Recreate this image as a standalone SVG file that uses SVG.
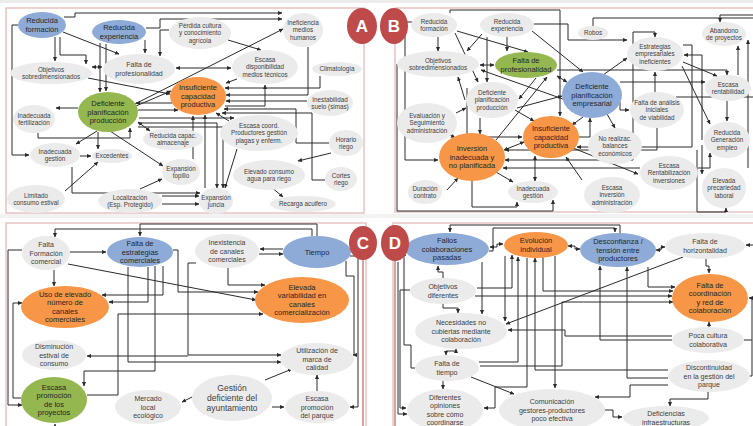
<svg xmlns="http://www.w3.org/2000/svg" width="753" height="426" viewBox="0 0 753 426">
<defs>
<marker id="ah" viewBox="0 0 10 10" refX="9" refY="5" markerWidth="4.5" markerHeight="4.5" orient="auto-start-reverse"><path d="M0,0.5L10,5L0,9.5z" fill="#2a2a2a"/></marker>
</defs>
<style>
.g{fill:#ebebeb}
.b{fill:#8eabd8}
.o{fill:#f79646}
.v{fill:#94b750}
.fr{fill:none;stroke:#e3b3b3;stroke-width:1.2}
.lab{fill:#bf4a4a}
.rl{stroke:#a94442;stroke-width:1;fill:none}
text{font-family:"Liberation Sans",Arial,sans-serif;text-anchor:middle}
.s{font-size:6.3px;fill:#404040}
.t{font-size:7px;fill:#404040}
.m{font-size:7.5px;fill:#262626}
.L{font-size:8.5px;fill:#404040}
.k{font-size:17px;font-weight:bold;fill:#fff}
#connectors path{fill:none;stroke:#2a2a2a;stroke-width:1}
#connectors .e{marker-end:url(#ah)}
#connectors .d{marker-end:url(#ah);marker-start:url(#ah)}
</style>
<rect width="753" height="426" fill="#fff"/>
<rect width="753" height="3" fill="#ececec"/>
<rect y="214" width="753" height="4" fill="#f2f2f2"/>
<g id="frames">
<rect class="fr" x="6" y="8" width="358" height="205"/>
<rect class="fr" x="395" y="8" width="362" height="204"/>
<rect class="fr" x="6" y="223" width="360" height="210"/>
<rect class="fr" x="393" y="223" width="364" height="210"/>
<path class="rl" d="M363 258V426M395 259V426"/>
</g>
<g id="connectors">
<!-- Panel A -->
<path class="e" d="M64 17H75V13H282"/>
<path class="e" d="M146 28H160V19H282"/>
<path class="e" d="M63 32L119 54"/>
<path class="e" d="M55 37V61"/>
<path class="e" d="M60 37V55H86V64"/>
<path class="e" d="M18 25H12V155H29"/>
<path class="e" d="M100 43V92"/>
<path class="e" d="M106 44V91"/>
<path class="e" d="M145 40V53"/>
<path class="e" d="M169 30H160V56"/>
<path class="d" d="M92 67H102"/>
<path class="e" d="M88 78L170 94"/>
<path class="d" d="M176 68H231"/>
<path class="e" d="M228 40L261 50"/>
<path class="e" d="M135 104L283 29"/>
<path class="e" d="M136 106L171 91"/>
<path class="e" d="M138 110H178"/>
<path class="e" d="M172 103H136"/>
<path class="e" d="M237 79L226 83"/>
<path class="e" d="M320 76V88H225"/>
<path class="e" d="M308 47V95H226"/>
<path class="e" d="M307 101H226"/>
<path class="e" d="M225 106H265V85"/>
<path class="e" d="M329 143H296V109H224"/>
<path class="e" d="M325 180H312V113H222"/>
<path class="e" d="M331 153L298 161"/>
<path class="e" d="M270 186L283 197"/>
<path class="e" d="M229 121L216 113"/>
<path class="e" d="M237 149L225 188"/>
<path class="e" d="M193 159V116"/>
<path class="e" d="M205 188V115"/>
<path class="e" d="M138 123H217V188"/>
<path class="e" d="M138 127H223V188"/>
<path class="e" d="M139 118H234"/>
<path class="e" d="M98 132V149"/>
<path class="e" d="M97 131L76 144"/>
<path class="e" d="M110 131L163 166"/>
<path class="e" d="M78 108H56"/>
<path class="e" d="M38 133V138H130V128"/>
<path class="e" d="M80 156H91"/>
<path class="e" d="M65 191L98 162"/>
<path class="e" d="M140 189L162 179"/>
<path class="e" d="M162 196H199"/>
<path class="e" d="M162 204H199"/>
<path class="e" d="M72 167V193H200"/>
<path class="d" d="M150 131L138 122"/>
<!-- Panel B -->
<path class="e" d="M438 37V51"/>
<path class="e" d="M457 31L528 52"/>
<path class="e" d="M455 33L478 82"/>
<path class="e" d="M482 34L467 51"/>
<path class="e" d="M507 37V51"/>
<path class="e" d="M532 31L583 72"/>
<path class="e" d="M487 37V82"/>
<path class="e" d="M534 24H568V40H627"/>
<path class="d" d="M480 65H494"/>
<path class="d" d="M557 76L567 82"/>
<path class="e" d="M563 99L481 70"/>
<path class="e" d="M465 100L458 77"/>
<path class="e" d="M456 113L466 108"/>
<path class="e" d="M446 132L455 138"/>
<path class="e" d="M480 118V134"/>
<path class="e" d="M515 110L534 121"/>
<path class="e" d="M536 78L519 99"/>
<path class="e" d="M496 140L547 77"/>
<path class="d" d="M504 150L524 142"/>
<path class="e" d="M447 190L458 178"/>
<path class="e" d="M496 172L513 182"/>
<path class="d" d="M535 156V181"/>
<path class="e" d="M472 181V207H517V202"/>
<path class="e" d="M412 22H405V160H438"/>
<path class="e" d="M397 64V211H553V200"/>
<path class="e" d="M450 13V10H560V116"/>
<path class="e" d="M467 88V137H522"/>
<path class="e" d="M517 108L562 96"/>
<path class="e" d="M583 117L572 125"/>
<path class="e" d="M579 137H590V118"/>
<path class="e" d="M603 75L627 58"/>
<path class="e" d="M607 114L615 128"/>
<path class="e" d="M620 102V110H629"/>
<path class="e" d="M655 92V72"/>
<path class="e" d="M683 62L717 76"/>
<path class="e" d="M682 66L710 124"/>
<path class="e" d="M738 75V46"/>
<path class="e" d="M727 101V121"/>
<path class="e" d="M748 168V40"/>
<path d="M593 26V18H753"/>
<path class="e" d="M753 15H720V22"/>
<path class="e" d="M633 160V32H655V37"/>
<path class="e" d="M702 140V55H684"/>
<path class="e" d="M698 168H710V153"/>
<path class="e" d="M573 148L638 174"/>
<path class="e" d="M582 180L566 157"/>
<path class="e" d="M620 82H705"/>
<path class="e" d="M557 70H727V75"/>
<path d="M676 97H753"/>
<path class="e" d="M683 45H692V147H577"/>
<path class="e" d="M697 150V212H726V208"/>
<path class="e" d="M702 145V174"/>
<path class="e" d="M633 160H505"/>
<path class="e" d="M640 168H503"/>
<path class="e" d="M657 128V150H505"/>
<!-- Panel C -->
<path class="e" d="M317 236V224H140V236"/>
<path class="e" d="M312 236V229H55V237"/>
<path class="e" d="M70 252H106"/>
<path class="e" d="M54 270V286"/>
<path class="e" d="M68 264L256 300"/>
<path class="e" d="M22 250H8V405H22"/>
<path class="e" d="M21 398H13V303H22"/>
<path class="e" d="M163 266V295H102"/>
<path class="e" d="M148 267V302H109"/>
<path class="e" d="M196 263H188V355H281"/>
<path class="e" d="M188 356H87"/>
<path class="e" d="M173 250H178V292H258"/>
<path class="e" d="M87 395H118V314H263"/>
<path class="e" d="M128 267V362H281"/>
<path class="e" d="M155 266V371H84V386"/>
<path class="e" d="M228 268V285H265"/>
<path class="e" d="M283 249H260"/>
<path class="e" d="M259 254H283"/>
<path class="e" d="M346 261V276H354V355H353"/>
<path class="e" d="M350 256H358V407H350"/>
<path class="e" d="M265 380L292 369"/>
<path class="e" d="M272 407H284"/>
<path class="e" d="M317 391V375"/>
<path class="e" d="M192 397L182 402"/>
<path class="e" d="M55 432V424"/>
<!-- Panel D -->
<path class="e" d="M620 233V225H450V232"/>
<path class="e" d="M489 251H493V228H615V232"/>
<path class="d" d="M490 247H497V244H503"/>
<path class="d" d="M568 246H575V249H580"/>
<path class="d" d="M656 250H661V247H665"/>
<path class="e" d="M753 245H746"/>
<path class="e" d="M706 259V266H709V273"/>
<path class="e" d="M683 257L506 324"/>
<path class="e" d="M709 328V322"/>
<path class="e" d="M708 392V399H670V406"/>
<path class="e" d="M668 385H630V397H595"/>
<path class="e" d="M604 410H613V417H622"/>
<path class="e" d="M745 376H752V298H749"/>
<path d="M744 340H752"/>
<path class="e" d="M443 278V272H438V266"/>
<path class="e" d="M443 304V308H458V313"/>
<path class="d" d="M446 355V351H456V349"/>
<path class="e" d="M443 381V389"/>
<path class="e" d="M471 377L514 394"/>
<path class="e" d="M410 290H400V408H406"/>
<path class="e" d="M415 368H411V345H404V252"/>
<path class="e" d="M398 262V414H407"/>
<path class="e" d="M482 262V314"/>
<path class="e" d="M505 256V321"/>
<path class="e" d="M477 288H512V255"/>
<path class="e" d="M479 362H518V257"/>
<path class="e" d="M527 258V387H495V408H484"/>
<path class="e" d="M668 370H535V258"/>
<path class="e" d="M555 256V388"/>
<path class="e" d="M672 340H600V266"/>
<path class="e" d="M668 378H627V267"/>
<path class="e" d="M648 267V287H675"/>
<path class="e" d="M543 257V291H673"/>
<path class="e" d="M475 296H672"/>
<path class="e" d="M480 366H562V302H673"/>
<path class="e" d="M672 336H565V330H508"/>
</g>
<!-- Panel A nodes -->
<g id="A1"><ellipse class="b" cx="42" cy="25" rx="24" ry="13"/><text class="m" x="42" y="23.4">Reducida</text><text class="m" x="42" y="31.9">formación</text></g>
<g id="A2"><ellipse class="b" cx="119" cy="32" rx="27" ry="12"/><text class="m" x="119" y="30.4">Reducida</text><text class="m" x="119" y="38.9">experiencia</text></g>
<g id="A3"><ellipse class="g" cx="200" cy="33" rx="31" ry="16"/><text class="s" x="200" y="27.7">Pérdida cultura</text><text class="s" x="200" y="35.2">y conocimiento</text><text class="s" x="200" y="42.7">agrícola</text></g>
<g id="A4"><ellipse class="g" cx="303" cy="30" rx="20" ry="17"/><text class="s" x="303" y="24.7">Ineficiencia</text><text class="s" x="303" y="32.2">medios</text><text class="s" x="303" y="39.7">humanos</text></g>
<g id="A5"><ellipse class="g" cx="51" cy="73" rx="41" ry="11"/><text class="s" x="51" y="71.5">Objetivos</text><text class="s" x="51" y="79">sobredimensionados</text></g>
<g id="A6"><ellipse class="g" cx="139" cy="69" rx="36" ry="15"/><text class="t" x="139" y="67.2">Falta de</text><text class="t" x="139" y="75.7">profesionalidad</text></g>
<g id="A7"><ellipse class="g" cx="265" cy="67" rx="33" ry="17"/><text class="s" x="265" y="61.7">Escasa</text><text class="s" x="265" y="69.2">disponibilidad</text><text class="s" x="265" y="76.7">medios técnicos</text></g>
<g id="A8"><ellipse class="g" cx="337" cy="69" rx="25" ry="7"/><text class="s" x="337" y="71.2">Climatología</text></g>
<g id="A9"><ellipse class="v" cx="108" cy="112" rx="30" ry="20"/><text class="m" x="108" y="106.1">Deficiente</text><text class="m" x="108" y="114.6">planificación</text><text class="m" x="108" y="123.1">producción</text></g>
<g id="A10"><ellipse class="o" cx="198" cy="96" rx="28" ry="19"/><text class="m" x="198" y="90.1">Insuficiente</text><text class="m" x="198" y="98.6">capacidad</text><text class="m" x="198" y="107.1">productiva</text></g>
<g id="A11"><ellipse class="g" cx="330" cy="103" rx="23" ry="13"/><text class="s" x="330" y="101.5">Inestabilidad</text><text class="s" x="330" y="109">suelo (simas)</text></g>
<g id="A12"><ellipse class="g" cx="34" cy="119" rx="21" ry="14"/><text class="s" x="34" y="117.5">Inadecuada</text><text class="s" x="34" y="125">fertilización</text></g>
<g id="A13"><ellipse class="g" cx="173" cy="139" rx="30" ry="11"/><text class="s" x="173" y="137.5">Reducida capac.</text><text class="s" x="173" y="145">almacenaje</text></g>
<g id="A14"><ellipse class="g" cx="259" cy="133" rx="39" ry="18"/><text class="s" x="259" y="127.7">Escasa coord.</text><text class="s" x="259" y="135.2">Productores gestión</text><text class="s" x="259" y="142.7">plagas y enferm.</text></g>
<g id="A15"><ellipse class="g" cx="346" cy="143" rx="17" ry="13"/><text class="s" x="346" y="141.5">Horario</text><text class="s" x="346" y="149">riego</text></g>
<g id="A16"><ellipse class="g" cx="55" cy="155" rx="25" ry="12"/><text class="s" x="55" y="153.5">Inadecuada</text><text class="s" x="55" y="161">gestión</text></g>
<g id="A17"><ellipse class="g" cx="112" cy="156" rx="20" ry="7"/><text class="s" x="112" y="158.2">Excedentes</text></g>
<g id="A18"><ellipse class="g" cx="181" cy="172" rx="19" ry="13"/><text class="s" x="181" y="170.5">Expansión</text><text class="s" x="181" y="178">topillo</text></g>
<g id="A19"><ellipse class="g" cx="269" cy="175" rx="36" ry="15"/><text class="s" x="269" y="173.5">Elevado consumo</text><text class="s" x="269" y="181">agua para riego</text></g>
<g id="A20"><ellipse class="g" cx="341" cy="179" rx="16" ry="12"/><text class="s" x="341" y="177.5">Cortes</text><text class="s" x="341" y="185">riego</text></g>
<g id="A21"><ellipse class="g" cx="36" cy="199" rx="29" ry="14"/><text class="s" x="36" y="197.5">Limitado</text><text class="s" x="36" y="205">consumo estival</text></g>
<g id="A22"><ellipse class="g" cx="130" cy="201" rx="32" ry="12"/><text class="s" x="130" y="199.5">Localización</text><text class="s" x="130" y="207">(Esp. Protegido)</text></g>
<g id="A23"><ellipse class="g" cx="216" cy="201" rx="17" ry="13"/><text class="s" x="216" y="199.5">Expansión</text><text class="s" x="216" y="207">juncia</text></g>
<g id="A24"><ellipse class="g" cx="303" cy="204" rx="33" ry="8"/><text class="s" x="303" y="206.2">Recarga acuifero</text></g>
<!-- Panel B nodes -->
<g id="B1"><ellipse class="g" cx="434" cy="25" rx="23" ry="12"/><text class="s" x="434" y="23.5">Reducida</text><text class="s" x="434" y="31">formación</text></g>
<g id="B2"><ellipse class="g" cx="507" cy="25" rx="27" ry="12"/><text class="s" x="507" y="23.5">Reducida</text><text class="s" x="507" y="31">experiencia</text></g>
<g id="B3"><ellipse class="g" cx="593" cy="33" rx="15" ry="7"/><text class="s" x="593" y="35.2">Robos</text></g>
<g id="B4"><ellipse class="g" cx="724" cy="34" rx="22" ry="12"/><text class="s" x="724" y="32.5">Abandono</text><text class="s" x="724" y="40">de proyectos</text></g>
<g id="B5"><ellipse class="g" cx="438" cy="64" rx="41" ry="13"/><text class="s" x="438" y="62.5">Objetivos</text><text class="s" x="438" y="70">sobredimensionados</text></g>
<g id="B6"><ellipse class="v" cx="526" cy="65" rx="31" ry="13"/><text class="m" x="526" y="63.4">Falta de</text><text class="m" x="526" y="71.9">profesionalidad</text></g>
<g id="B7"><ellipse class="g" cx="655" cy="54" rx="28" ry="17"/><text class="s" x="655" y="48.7">Estrategias</text><text class="s" x="655" y="56.2">empresariales</text><text class="s" x="655" y="63.7">ineficientes</text></g>
<g id="B8"><ellipse class="b" cx="592" cy="95" rx="30" ry="23"/><text class="m" x="592" y="89.1">Deficiente</text><text class="m" x="592" y="97.6">planificación</text><text class="m" x="592" y="106.1">empresarial</text></g>
<g id="B9"><ellipse class="g" cx="728" cy="88" rx="23" ry="13"/><text class="s" x="728" y="86.5">Escasa</text><text class="s" x="728" y="94">rentabilidad</text></g>
<g id="B10"><ellipse class="g" cx="492" cy="100" rx="26" ry="18"/><text class="s" x="492" y="94.7">Deficiente</text><text class="s" x="492" y="102.2">planificación</text><text class="s" x="492" y="109.7">producción</text></g>
<g id="B11"><ellipse class="g" cx="657" cy="110" rx="27" ry="18"/><text class="s" x="657" y="104.7">Falta de análisis</text><text class="s" x="657" y="112.2">iniciales</text><text class="s" x="657" y="119.7">de viabilidad</text></g>
<g id="B12"><ellipse class="g" cx="427" cy="123" rx="30" ry="20"/><text class="s" x="427" y="117.7">Evaluación y</text><text class="s" x="427" y="125.2">Seguimiento</text><text class="s" x="427" y="132.7">administración</text></g>
<g id="B13"><ellipse class="o" cx="551" cy="137" rx="28" ry="21"/><text class="m" x="551" y="131.1">Insuficiente</text><text class="m" x="551" y="139.6">capacidad</text><text class="m" x="551" y="148.1">productiva</text></g>
<g id="B14"><ellipse class="g" cx="727" cy="140" rx="23" ry="18"/><text class="s" x="727" y="134.7">Reducida</text><text class="s" x="727" y="142.2">Generación</text><text class="s" x="727" y="149.7">empleo</text></g>
<g id="B15"><ellipse class="g" cx="615" cy="146" rx="27" ry="18"/><text class="s" x="615" y="140.7">No realizac.</text><text class="s" x="615" y="148.2">balances</text><text class="s" x="615" y="155.7">económicos</text></g>
<g id="B16"><ellipse class="o" cx="472" cy="157" rx="33" ry="24"/><text class="m" x="472" y="151.1">Inversión</text><text class="m" x="472" y="159.6">inadecuada y</text><text class="m" x="472" y="168.1">no planificada</text></g>
<g id="B17"><ellipse class="g" cx="669" cy="173" rx="29" ry="17"/><text class="s" x="669" y="167.7">Escasa</text><text class="s" x="669" y="175.2">Rentabilización</text><text class="s" x="669" y="182.7">inversiones</text></g>
<g id="B18"><ellipse class="g" cx="724" cy="188" rx="22" ry="20"/><text class="s" x="724" y="182.7">Elevada</text><text class="s" x="724" y="190.2">precariedad</text><text class="s" x="724" y="197.7">laboral</text></g>
<g id="B19"><ellipse class="g" cx="425" cy="192" rx="17" ry="12"/><text class="s" x="425" y="190.5">Duración</text><text class="s" x="425" y="198">contrato</text></g>
<g id="B20"><ellipse class="g" cx="533" cy="192" rx="25" ry="11"/><text class="s" x="533" y="190.5">Inadecuada</text><text class="s" x="533" y="198">gestión</text></g>
<g id="B21"><ellipse class="g" cx="612" cy="195" rx="28" ry="18"/><text class="s" x="612" y="189.7">Escasa</text><text class="s" x="612" y="197.2">inversión</text><text class="s" x="612" y="204.7">administración</text></g>
<!-- Panel C nodes -->
<g id="C1"><ellipse class="g" cx="46" cy="253" rx="24" ry="17"/><text class="t" x="46" y="247">Falta</text><text class="t" x="46" y="255.5">Formación</text><text class="t" x="46" y="264">comercial</text></g>
<g id="C2"><ellipse class="b" cx="140" cy="252" rx="33" ry="15"/><text class="m" x="140" y="246.1">Falta de</text><text class="m" x="140" y="254.6">estrategias</text><text class="m" x="140" y="263.1">comerciales</text></g>
<g id="C3"><ellipse class="g" cx="227" cy="251" rx="32" ry="17"/><text class="t" x="227" y="245">Inexistencia</text><text class="t" x="227" y="253.5">de canales</text><text class="t" x="227" y="262">comerciales</text></g>
<g id="C4"><ellipse class="b" cx="317" cy="252" rx="34" ry="16"/><text class="m" x="317" y="254.6">Tiempo</text></g>
<g id="C5"><ellipse class="o" cx="65" cy="307" rx="44" ry="21"/><text class="m" x="65" y="296.9">Uso de elevado</text><text class="m" x="65" y="305.4">número de</text><text class="m" x="65" y="313.9">canales</text><text class="m" x="65" y="322.4">comerciales</text></g>
<g id="C6"><ellipse class="o" cx="302" cy="300" rx="47" ry="23"/><text class="m" x="302" y="289.9">Elevada</text><text class="m" x="302" y="298.4">variabilidad en</text><text class="m" x="302" y="306.9">canales</text><text class="m" x="302" y="315.4">comercialización</text></g>
<g id="C7"><ellipse class="g" cx="54" cy="355" rx="32" ry="15"/><text class="t" x="54" y="349">Disminución</text><text class="t" x="54" y="357.5">estival de</text><text class="t" x="54" y="366">consumo</text></g>
<g id="C8"><ellipse class="g" cx="317" cy="359" rx="37" ry="16"/><text class="t" x="317" y="353">Utilización de</text><text class="t" x="317" y="361.5">marca de</text><text class="t" x="317" y="370">calidad</text></g>
<g id="C9"><ellipse class="v" cx="54" cy="400" rx="33" ry="23"/><text class="m" x="54" y="389.9">Escasa</text><text class="m" x="54" y="398.4">promoción</text><text class="m" x="54" y="406.9">de los</text><text class="m" x="54" y="415.4">proyectos</text></g>
<g id="C10"><ellipse class="g" cx="148" cy="407" rx="33" ry="17"/><text class="t" x="148" y="401">Mercado</text><text class="t" x="148" y="409.5">local</text><text class="t" x="148" y="418">ecológico</text></g>
<g id="C11"><ellipse class="g" cx="232" cy="398" rx="40" ry="23"/><text class="L" x="232" y="391">Gestión</text><text class="L" x="232" y="401">deficiente del</text><text class="L" x="232" y="411">ayuntamiento</text></g>
<g id="C12"><ellipse class="g" cx="317" cy="407" rx="32" ry="16"/><text class="t" x="317" y="401">Escasa</text><text class="t" x="317" y="409.5">promoción</text><text class="t" x="317" y="418">del parque</text></g>
<!-- Panel D nodes -->
<g id="D1"><ellipse class="b" cx="447" cy="249" rx="42" ry="16"/><text class="m" x="447" y="243.1">Fallos</text><text class="m" x="447" y="251.6">colaboraciones</text><text class="m" x="447" y="260.1">pasadas</text></g>
<g id="D2"><ellipse class="o" cx="536" cy="245" rx="32" ry="13"/><text class="m" x="536" y="243.4">Evolución</text><text class="m" x="536" y="251.9">individual</text></g>
<g id="D3"><ellipse class="b" cx="618" cy="250" rx="38" ry="17"/><text class="m" x="618" y="244.1">Desconfianza /</text><text class="m" x="618" y="252.6">tensión entre</text><text class="m" x="618" y="261.1">productores</text></g>
<g id="D4"><ellipse class="g" cx="705" cy="246" rx="40" ry="13"/><text class="t" x="705" y="244.2">Falta de</text><text class="t" x="705" y="252.7">horizontalidad</text></g>
<g id="D5"><ellipse class="g" cx="443" cy="291" rx="33" ry="13"/><text class="t" x="443" y="289.2">Objetivos</text><text class="t" x="443" y="297.7">diferentes</text></g>
<g id="D6"><ellipse class="o" cx="710" cy="298" rx="38" ry="24"/><text class="m" x="710" y="287.9">Falta de</text><text class="m" x="710" y="296.4">coordinación</text><text class="m" x="710" y="304.9">y red de</text><text class="m" x="710" y="313.4">colaboración</text></g>
<g id="D7"><ellipse class="g" cx="461" cy="331" rx="46" ry="18"/><text class="t" x="461" y="325">Necesidades no</text><text class="t" x="461" y="333.5">cubiertas mediante</text><text class="t" x="461" y="342">colaboración</text></g>
<g id="D8"><ellipse class="g" cx="708" cy="340" rx="36" ry="13"/><text class="t" x="708" y="338.2">Poca cultura</text><text class="t" x="708" y="346.7">colaborativa</text></g>
<g id="D9"><ellipse class="g" cx="447" cy="368" rx="32" ry="13"/><text class="t" x="447" y="366.2">Falta de</text><text class="t" x="447" y="374.7">tiempo</text></g>
<g id="D10"><ellipse class="g" cx="709" cy="376" rx="41" ry="16"/><text class="t" x="709" y="370">Discontinuidad</text><text class="t" x="709" y="378.5">en la gestión del</text><text class="t" x="709" y="387">parque</text></g>
<g id="D11"><ellipse class="g" cx="445" cy="410" rx="38" ry="21"/><text class="t" x="445" y="399.7">Diferentes</text><text class="t" x="445" y="408.2">opiniones</text><text class="t" x="445" y="416.7">sobre cómo</text><text class="t" x="445" y="425.2">coordinarse</text></g>
<g id="D12"><ellipse class="g" cx="552" cy="410" rx="53" ry="21"/><text class="t" x="552" y="404">Comunicación</text><text class="t" x="552" y="412.5">gestores-productores</text><text class="t" x="552" y="421">poco efectiva</text></g>
<g id="D13"><ellipse class="g" cx="666" cy="418" rx="43" ry="12"/><text class="t" x="666" y="416.2">Deficiencias</text><text class="t" x="666" y="424.7">infraestructuras</text></g>
<!-- Panel labels -->
<g id="labelA"><ellipse class="lab" cx="362" cy="26" rx="15" ry="18"/><text class="k" x="362" y="32">A</text></g>
<g id="labelB"><ellipse class="lab" cx="394" cy="26" rx="14" ry="18"/><text class="k" x="394" y="32">B</text></g>
<g id="labelC"><ellipse class="lab" cx="363" cy="243" rx="14" ry="17"/><text class="k" x="363" y="249">C</text></g>
<g id="labelD"><ellipse class="lab" cx="395" cy="243" rx="14" ry="18"/><text class="k" x="395" y="249">D</text></g>
</svg>
